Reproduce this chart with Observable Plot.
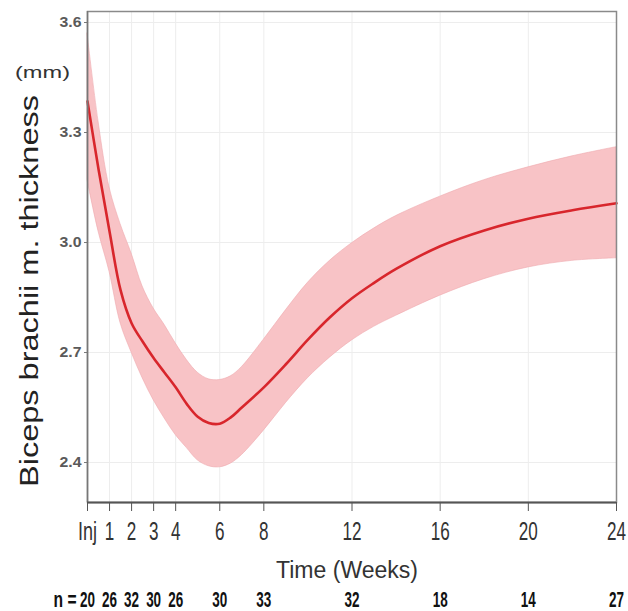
<!DOCTYPE html>
<html>
<head>
<meta charset="utf-8">
<script src="https://cdn.jsdelivr.net/npm/d3@7"></script>
<script src="https://cdn.jsdelivr.net/npm/@observablehq/plot@0.6"></script>
<style>
  html, body { margin: 0; padding: 0; background: #fff; }
  #chart { width: 628px; height: 611px; }
</style>
</head>
<body>
<div id="chart"></div>
<script>
const weeks =       [0,    0.5,  1,    1.5,  2,    2.5,  3,    3.5,  4,    4.5,  5,    5.5,  6,    6.5,  7,    8,    9,    10,   11,   12,   13,   14,   16,   18,   20,   22,   24];
const meanValues =  [3.385,3.20, 3.03, 2.87, 2.78, 2.73, 2.685,2.645,2.605,2.56, 2.525,2.508,2.506,2.523,2.55, 2.605,2.668,2.735,2.796,2.848,2.89, 2.928,2.99, 3.033,3.065,3.088,3.107];
const upperValues = [3.57, 3.33, 3.15, 3.05, 2.97, 2.88, 2.82, 2.775,2.725,2.68, 2.645,2.627,2.625,2.635,2.66, 2.735,2.815,2.89, 2.95, 2.998,3.038,3.072,3.125,3.17, 3.205,3.235,3.26];
const lowerValues = [3.17, 3.03, 2.92, 2.78, 2.70, 2.63, 2.57, 2.52, 2.475,2.44, 2.406,2.39, 2.387,2.397,2.42, 2.487,2.562,2.63, 2.686,2.733,2.77, 2.80, 2.855,2.90, 2.932,2.95, 2.957];

const tickWeeks = [0, 1, 2, 3, 4, 6, 8, 12, 16, 20, 24];
const tickLabels = ["Inj", "1", "2", "3", "4", "6", "8", "12", "16", "20", "24"];
const nCounts = [20, 26, 32, 30, 26, 30, 33, 32, 18, 14, 27];
const yTicks = [2.4, 2.7, 3.0, 3.3, 3.6];

const yLabel = "Biceps brachii m. thickness";
const unitLabel = "(mm)";
const xLabel = "Time (Weeks)";
const nPrefix = "n =";

const data = weeks.map((w, i) => ({week: w, mean: meanValues[i], upper: upperValues[i], lower: lowerValues[i]}));
const labelOf = new Map(tickWeeks.map((w, i) => [w, tickLabels[i]]));
const nOf = new Map(tickWeeks.map((w, i) => [w, nCounts[i]]));

const yDomain = [2.291, 3.63];
const sans = "'Liberation Sans', Arial, sans-serif";

const chart = Plot.plot({
  width: 628,
  height: 611,
  marginLeft: 87,
  marginRight: 12,
  marginTop: 11,
  marginBottom: 109,
  style: {fontFamily: sans, background: "#fff", color: "#333"},
  x: {domain: [0, 24], axis: null},
  y: {domain: yDomain, axis: null},
  marks: [
    Plot.gridX(tickWeeks, {stroke: "#ededed", strokeOpacity: 1}),
    Plot.gridY(yTicks, {stroke: "#ededed", strokeOpacity: 1}),
    Plot.areaY(data, {x: "week", y1: "lower", y2: "upper", fill: "#f8c3c6", stroke: "#efa9af", strokeWidth: 0.6, curve: "catmull-rom"}),
    Plot.line(data, {x: "week", y: "mean", stroke: "#d8262c", strokeWidth: 2.6, curve: "catmull-rom"}),
    Plot.frame({stroke: "#8a8a8a", strokeWidth: 1.5}),
    Plot.ruleX([0], {stroke: "#777", strokeWidth: 1.5}),
    Plot.ruleY([yDomain[0]], {stroke: "#555", strokeWidth: 2}),
    Plot.axisY(yTicks, {
      tickSize: 3, tickPadding: 3, tickFormat: d3.format(".1f"),
      fontSize: 15, fontFamily: sans, fontWeight: "bold", fill: "#5a5a5a", stroke: "#777", label: null,
      className: "yticks"
    }),
    Plot.axisX(tickWeeks, {
      tickSize: 9, tickPadding: 11, tickFormat: d => labelOf.get(d),
      fontSize: 25, fontFamily: sans, fill: "#333", stroke: "#555", label: null,
      className: "xticks"
    }),
    Plot.axisX(tickWeeks, {
      tickSize: 0, tickPadding: 89, tickFormat: d => nOf.get(d),
      fontSize: 22, fontWeight: "bold", fontFamily: sans, fill: "#111", label: null,
      className: "nrow"
    }),
    Plot.text([nPrefix], {
      frameAnchor: "bottom-left", dx: -11, dy: 89, textAnchor: "end", lineAnchor: "top",
      fontSize: 22, fontWeight: "bold", fontFamily: sans, fill: "#111",
      className: "nprefix"
    }),
    Plot.text([xLabel], {
      frameAnchor: "bottom", dx: -5, dy: 75, textAnchor: "middle",
      fontSize: 23, fontFamily: sans, fill: "#333", className: "xlabel"
    }),
    Plot.text([yLabel], {
      frameAnchor: "left", dx: -58, dy: 34, rotate: -90, textAnchor: "middle",
      fontSize: 25, fontFamily: sans, fill: "#222", className: "ylabel"
    }),
    Plot.text([unitLabel], {
      frameAnchor: "top-left", dx: -45, dy: 54, textAnchor: "middle",
      fontSize: 17, fontFamily: sans, fill: "#333", className: "unitlabel"
    })
  ]
});
document.getElementById("chart").append(chart);

// condense / stretch the texts to the widths seen in the reference
const fit = (cls, lenOf) => d3.select(chart).selectAll(`.${cls} text`)
  .attr("textLength", function() { return lenOf(this.textContent); })
  .attr("lengthAdjust", "spacingAndGlyphs");
fit("ylabel", () => 392);
fit("xlabel", () => 142);
fit("unitlabel", () => 55);
fit("xticks", s => s === "Inj" ? 19 : s.length * 9.5);
fit("nrow", s => s.length * 7.5);
fit("nprefix", () => 23);
fit("yticks", () => 22);
</script>
</body>
</html>
